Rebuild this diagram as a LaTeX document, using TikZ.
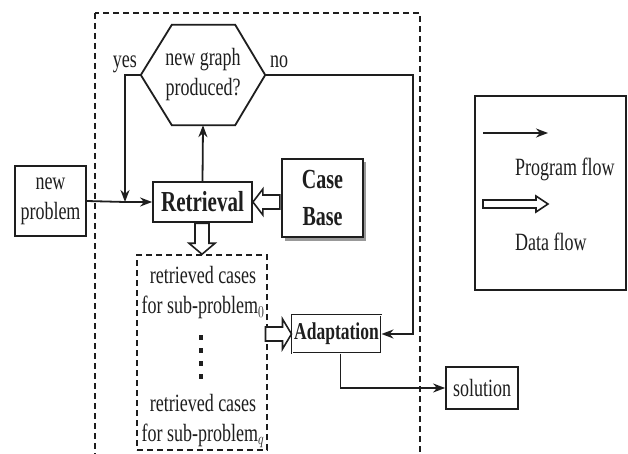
\documentclass[tikz,border=0pt]{standalone}
\usepackage{fontspec}
\setmainfont{Liberation Serif}
\usetikzlibrary{arrows.meta,calc}
\definecolor{ink}{RGB}{30,30,30}
\newcommand{\vs}[1]{\scalebox{1}[1.38]{#1}}
\tikzset{
  box/.style={draw=ink, line width=1.8pt, inner sep=0pt, align=center, fill=white},
  flow/.style={draw=ink, line width=1.8pt, -{Stealth[length=12pt,width=9pt]}},
  plain/.style={draw=ink, line width=1.8pt},
  dashbox/.style={draw=ink, line width=1.5pt, dash pattern=on 6pt off 4pt},
  hollowsty/.style={draw=ink, line width=1.6pt, fill=white, line join=miter},
  pics/hollow/.style n args={4}{code={
    \draw[hollowsty] (-#1,-#2) -- (-#4,-#2) -- (-#4,-#3) -- (0,0) -- (-#4,#3) -- (-#4,#2) -- (-#1,#2) -- cycle;}},
  txt/.style={font=\fontsize{18}{30}\selectfont, align=center, inner sep=0pt, text=ink}
}
\begin{document}
\begin{tikzpicture}[x=1pt,y=-1pt]
\path[use as bounding box, clip] (0,0) rectangle (628,454);
\fill[white] (0,0) rectangle (628,454);

% outer dashed region
\draw[dashbox] (95,13) rectangle (420,470);

% hexagon decision
\node[minimum width=124pt, minimum height=100pt, inner sep=0pt, txt] (hex) at (203,75) {\vs{new graph}\\\vs{produced?}};
\draw[draw=ink, line width=1.8pt, line join=miter]
  (hex.west) -- ($(hex.north west)+(31,0)$) -- ($(hex.north east)+(-30,0)$) -- (hex.east)
  -- ($(hex.south east)+(-30,0)$) -- ($(hex.south west)+(31,0)$) -- cycle;
\node[txt, anchor=base east] (yes) at (137,68) {\vs{yes}};
\node[txt, anchor=base west] (no) at (270,68) {\vs{no}};

% boxes
\node[box, txt, minimum width=71pt, minimum height=70pt] (newp) at (50.5,201) {\vs{new}\\\vs{problem}};
\node[box, txt, minimum width=99pt, minimum height=40pt, font=\fontsize{21}{30}\selectfont\bfseries] (retr) at (202.5,202) {\vs{Retrieval}};
\fill[black!40] (285,162) rectangle (366,241);
\node[box, txt, minimum width=81pt, minimum height=78pt, font=\fontsize{20}{37}\selectfont\bfseries] (cb) at (322.5,198) {\vs{Case}\\\vs{Base}};
\node[box, txt, minimum width=89pt, minimum height=38pt, font=\fontsize{17.5}{30}\selectfont\bfseries, double=white, double distance=0.9pt, line width=1pt] (adapt) at (336.5,334) {\vs{Adaptation}};
\node[box, txt, minimum width=72pt, minimum height=42pt] (sol) at (482,388) {\vs{solution}};

% inner dashed box of retrieved cases
\node[dashbox, minimum width=130pt, minimum height=195pt, inner sep=0pt] (rc) at (202,352.5) {};
\node[txt] (rc0) at (203,293) {\vs{retrieved cases}\\\vs{for sub-problem$_0$}};
\node[txt] (rcq) at (203,421) {\vs{retrieved cases}\\\vs{for sub-problem$_q$}};
\draw[draw=ink, line width=4.5pt, dash pattern=on 5pt off 8pt] (201,335) -- (201,382);

% program flow connectors
\coordinate (join) at (125,202);
\coordinate (yescorner) at (125,75);
\coordinate (nocorner) at (413,75);
\draw[plain] (newp.east) -- (join);
\draw[flow] (join) -- (retr.west);
\draw[flow] (hex.west) -- (yescorner) -- (join);
\draw[flow] (retr.north) -- (hex.south);
\draw[flow] (hex.east) -- (nocorner) |- (adapt.east);
\draw[flow] ([xshift=4pt]adapt.south) |- (sol.west);

% data flow (hollow) arrows
\pic[rotate=180] at (retr.east) {hollow={27}{7}{13}{10}};
\pic[rotate=-90] at (rc.north) {hollow={31}{7}{13}{11}};
\pic at (adapt.west) {hollow={26}{7}{15}{9}};

% legend
\node[box, minimum width=151pt, minimum height=194pt] (leg) at (550.5,193) {};
\coordinate (pf0) at (483,133);
\coordinate (pf1) at (548,133);
\coordinate (df0) at (483,204);
\coordinate (df1) at (548,204);
\draw[flow] (pf0) -- (pf1);
\node[txt, anchor=west] (pft) at (515,169) {\vs{Program flow}};
\pic at (df1) {hollow={65}{4}{8}{12}};
\node[txt, anchor=west] (dft) at (515,242) {\vs{Data flow}};
\end{tikzpicture}
\end{document}
